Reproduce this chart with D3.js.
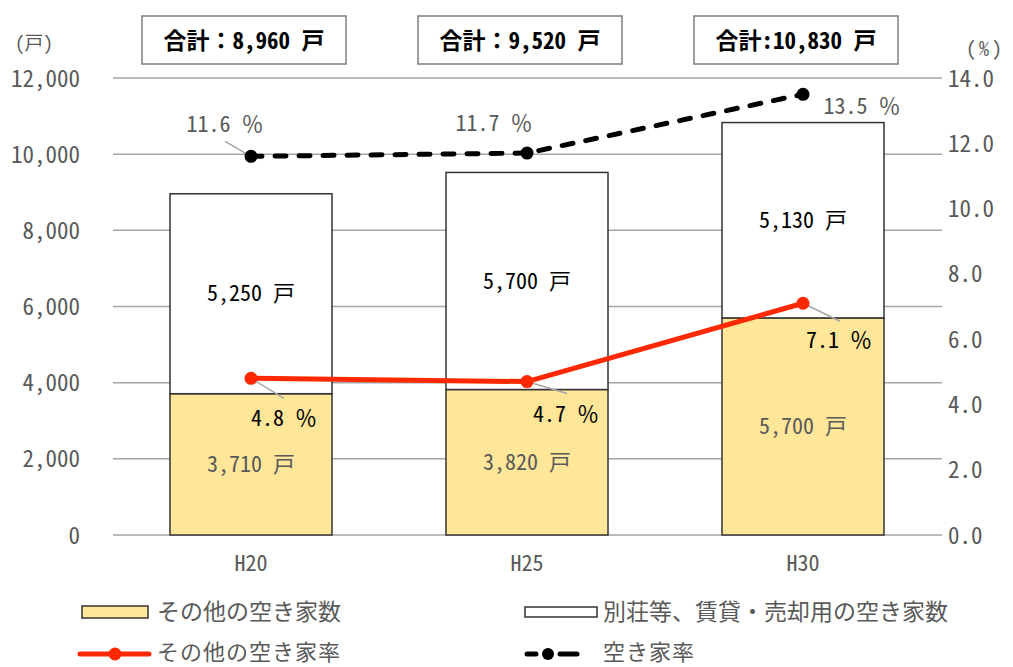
<!DOCTYPE html>
<html><head><meta charset="utf-8">
<script src="https://cdn.jsdelivr.net/npm/d3@7"></script>
<style>
html,body{margin:0;padding:0;background:#fff;}
svg{display:block;}
text{font-family:'Noto Sans Mono CJK JP','Noto Sans CJK JP','DejaVu Sans Mono',monospace;}
</style></head>
<body><svg id="c" width="1013" height="667"></svg>
<script>
// ---- data ----
const categories = ["H20", "H25", "H30"];
const otherVacant = [3710, 3820, 5700];          // その他の空き家数
const secondaryRental = [5250, 5700, 5130];      // 別荘等、賃貸・売却用の空き家数
const totals = [8960, 9520, 10830];
const totalLabels = ["合計：8,960 戸", "合計：9,520 戸", "合計:10,830 戸"];
const otherRate = [4.8, 4.7, 7.1];               // その他の空き家率
const vacancyRate = [11.6, 11.7, 13.5];          // 空き家率
const leftTicks = [0, 2000, 4000, 6000, 8000, 10000, 12000];
const rightTicks = [0, 2, 4, 6, 8, 10, 12, 14];
const legendLabels = ["その他の空き家数", "別荘等、賃貸・売却用の空き家数", "その他の空き家率", "空き家率"];

// ---- label placement (style, not data) ----
const otherRateLabelOff = [[33, 40], [39, 33], [36, 37]];
const otherRateLeader = [[33, 20], [40, 12], [37, 18]];
const vacRateLabelOff = [[-26, -32], [-33, -30], [59, 12]];
const vacRateLeader = [[-26, -15], null, null];

const svg = d3.select("#c");
const x = d3.scaleBand().domain(categories).range([113, 941]).paddingInner(0.413).paddingOuter(0.2065);
const y = d3.scaleLinear().domain([0, 12000]).range([535, 78]);
const y2 = d3.scaleLinear().domain([0, 14]).range([535, 78]);

const gray = "#595959";
const grid = "#a6a6a6";
const yellow = "#FFE699";
const red = "#FF2800";

// gridlines
svg.append("g").selectAll("line").data(leftTicks).join("line")
  .attr("x1", 113).attr("x2", 942)
  .attr("y1", d => y(d)).attr("y2", d => y(d))
  .attr("stroke", grid).attr("stroke-width", 1.5);

// left axis
const leftAxis = d3.axisLeft(y).tickValues(leftTicks).tickFormat(d3.format(",")).tickSize(0).tickPadding(0);
const gl = svg.append("g").attr("transform", "translate(80,0)").call(leftAxis);
gl.select(".domain").remove();
gl.selectAll("text").attr("fill", gray).attr("font-size", 23).attr("dy", "0.35em");

// right axis
const rightAxis = d3.axisRight(y2).tickValues(rightTicks).tickFormat(d3.format(".1f")).tickSize(0).tickPadding(0);
const gr = svg.append("g").attr("transform", "translate(948,0)").call(rightAxis);
gr.select(".domain").remove();
gr.selectAll("text").attr("fill", gray).attr("font-size", 23).attr("dy", "0.35em");

// bottom axis labels
const bottomAxis = d3.axisBottom(x).tickSize(0).tickPadding(0);
const gb = svg.append("g").attr("transform", "translate(0,563)").call(bottomAxis);
gb.select(".domain").remove();
gb.selectAll("text").attr("fill", gray).attr("font-size", 22).attr("dy", "0.35em");

// unit labels
svg.append("text").attr("x", 15).attr("y", 43).attr("dy", "0.35em").attr("font-size", 19).attr("fill", gray).text("(戸)");
svg.append("text").attr("x", 966).attr("y", 49).attr("dy", "0.35em").attr("font-size", 20).attr("letter-spacing", 3).attr("fill", gray).text("(%)");

// stacked bars
const bars = svg.append("g");
categories.forEach((c, i) => {
  bars.append("rect").attr("x", x(c)).attr("width", x.bandwidth())
    .attr("y", y(otherVacant[i])).attr("height", y(0) - y(otherVacant[i]))
    .attr("fill", yellow).attr("stroke", "#333").attr("stroke-width", 1.5);
  const top = otherVacant[i] + secondaryRental[i];
  bars.append("rect").attr("x", x(c)).attr("width", x.bandwidth())
    .attr("y", y(top)).attr("height", y(otherVacant[i]) - y(top))
    .attr("fill", "#fff").attr("stroke", "#333").attr("stroke-width", 1.5);
  const cx = x(c) + x.bandwidth() / 2;
  bars.append("text").attr("x", cx).attr("y", y(otherVacant[i] / 2)).attr("dy", "0.35em")
    .attr("text-anchor", "middle").attr("font-size", 22).attr("fill", gray)
    .text(d3.format(",")(otherVacant[i]) + " 戸");
  bars.append("text").attr("x", cx).attr("y", y(otherVacant[i] + secondaryRental[i] / 2)).attr("dy", "0.35em")
    .attr("text-anchor", "middle").attr("font-size", 22).attr("fill", "#000")
    .text(d3.format(",")(secondaryRental[i]) + " 戸");
});

// total boxes
categories.forEach((c, i) => {
  const cx = x(c) + x.bandwidth() / 2;
  svg.append("rect").attr("x", cx - 109).attr("y", 16).attr("width", 204).attr("height", 48)
    .attr("fill", "#fff").attr("stroke", "#7f7f7f").attr("stroke-width", 1.5);
  svg.append("text").attr("x", cx - 7).attr("y", 41).attr("dy", "0.35em").attr("text-anchor", "middle")
    .attr("font-size", 23).attr("font-weight", "bold").attr("fill", "#000").text(totalLabels[i]);
});

const px = i => x(categories[i]) + x.bandwidth() / 2;

// vacancy rate dashed line
const lineV = d3.line().x((d, i) => px(i)).y(d => y2(d));
svg.append("path").attr("d", lineV(vacancyRate)).attr("fill", "none").attr("stroke", "#000")
  .attr("stroke-width", 5).attr("stroke-dasharray", "11,13").attr("stroke-linecap", "round");
// other rate red line
const lineO = d3.line().x((d, i) => px(i)).y(d => y2(d));
svg.append("path").attr("d", lineO(otherRate)).attr("fill", "none").attr("stroke", red)
  .attr("stroke-width", 5).attr("stroke-linejoin", "round");

// leaders
otherRate.forEach((d, i) => {
  const l = otherRateLeader[i];
  if (l) svg.append("line").attr("x1", px(i)).attr("y1", y2(d)).attr("x2", px(i) + l[0]).attr("y2", y2(d) + l[1])
    .attr("stroke", grid).attr("stroke-width", 1.5);
});
vacancyRate.forEach((d, i) => {
  const l = vacRateLeader[i];
  if (l) svg.append("line").attr("x1", px(i)).attr("y1", y2(d)).attr("x2", px(i) + l[0]).attr("y2", y2(d) + l[1])
    .attr("stroke", grid).attr("stroke-width", 1.5);
});

// markers
svg.append("g").selectAll("circle").data(vacancyRate).join("circle")
  .attr("cx", (d, i) => px(i)).attr("cy", d => y2(d)).attr("r", 6.5).attr("fill", "#000");
svg.append("g").selectAll("circle").data(otherRate).join("circle")
  .attr("cx", (d, i) => px(i)).attr("cy", d => y2(d)).attr("r", 6.5).attr("fill", red);

// rate labels
otherRate.forEach((d, i) => {
  const o = otherRateLabelOff[i];
  svg.append("text").attr("x", px(i) + o[0]).attr("y", y2(d) + o[1]).attr("dy", "0.35em")
    .attr("text-anchor", "middle").attr("font-size", 22).attr("fill", "#000")
    .text(d3.format(".1f")(d) + " ％");
});
vacancyRate.forEach((d, i) => {
  const o = vacRateLabelOff[i];
  svg.append("text").attr("x", px(i) + o[0]).attr("y", y2(d) + o[1]).attr("dy", "0.35em")
    .attr("text-anchor", "middle").attr("font-size", 22).attr("fill", gray)
    .text(d3.format(".1f")(d) + " ％");
});

// legend
const lg = svg.append("g");
lg.append("rect").attr("x", 82).attr("y", 606).attr("width", 66).attr("height", 12)
  .attr("fill", yellow).attr("stroke", "#333").attr("stroke-width", 1.5);
lg.append("text").attr("x", 157).attr("y", 612).attr("dy", "0.35em").attr("font-size", 23).attr("fill", gray).text(legendLabels[0]);
lg.append("rect").attr("x", 525).attr("y", 607).attr("width", 72).attr("height", 10)
  .attr("fill", "#fff").attr("stroke", "#333").attr("stroke-width", 1.5);
lg.append("text").attr("x", 603).attr("y", 612).attr("dy", "0.35em").attr("font-size", 23).attr("fill", gray).text(legendLabels[1]);
lg.append("line").attr("x1", 80).attr("x2", 149).attr("y1", 654).attr("y2", 654)
  .attr("stroke", red).attr("stroke-width", 5).attr("stroke-linecap", "round");
lg.append("circle").attr("cx", 115).attr("cy", 654).attr("r", 6.5).attr("fill", red);
lg.append("text").attr("x", 157).attr("y", 653).attr("dy", "0.33em").attr("font-size", 22).attr("letter-spacing", 1).attr("fill", gray).text(legendLabels[2]);
lg.append("line").attr("x1", 527).attr("x2", 536).attr("y1", 654).attr("y2", 654)
  .attr("stroke", "#000").attr("stroke-width", 5).attr("stroke-linecap", "round");
lg.append("line").attr("x1", 560).attr("x2", 577).attr("y1", 654).attr("y2", 654)
  .attr("stroke", "#000").attr("stroke-width", 5).attr("stroke-linecap", "round");
lg.append("circle").attr("cx", 548).attr("cy", 654).attr("r", 6).attr("fill", "#000");
lg.append("text").attr("x", 603).attr("y", 653).attr("dy", "0.33em").attr("font-size", 22).attr("letter-spacing", 1).attr("fill", gray).text(legendLabels[3]);
</script></body></html>
